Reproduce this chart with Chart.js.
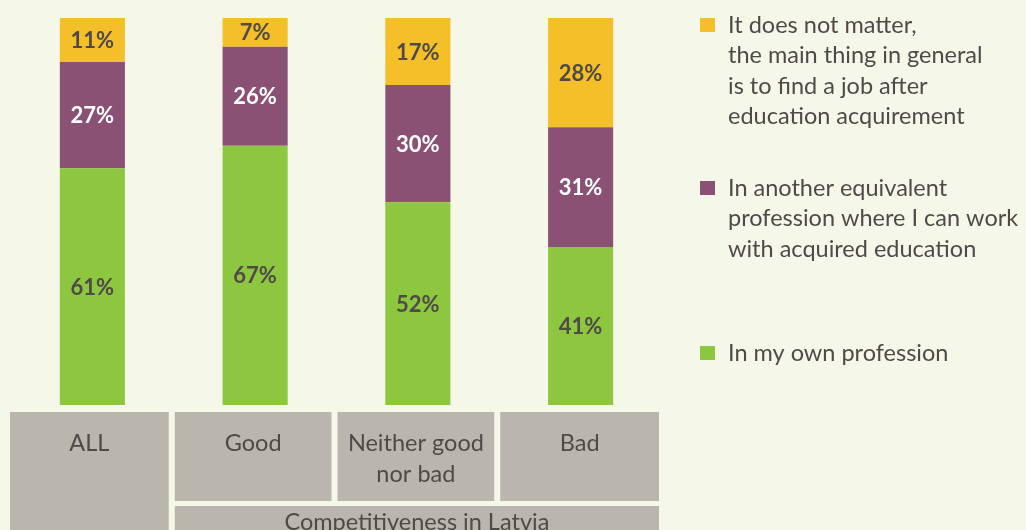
<!DOCTYPE html>
<html>
<head>
<meta charset="utf-8">
<script src="https://cdn.jsdelivr.net/npm/chart.js@4"></script>
<style>
  html, body { margin: 0; padding: 0; background: #f5f8e8; }
  #wrap { width: 1026px; height: 530px; position: relative; }
</style>
</head>
<body>
<div id="wrap"><canvas id="chart"></canvas></div>
<script>
// --- Data ---
const categories = ['ALL', 'Good', ['Neither good', 'nor bad'], 'Bad'];
const groupLabel = 'Competitiveness in Latvia';
const ownProfession = [61.2, 67.0, 52.4, 40.8];
const otherProfession = [27.4, 25.6, 30.3, 31.0];
const doesNotMatter = [11.4, 7.4, 17.3, 28.2];
const legendLines = {
  matter: ['It does not matter,', 'the main thing in general', 'is to find a job after', 'education acquirement'],
  other: ['In another equivalent', 'profession where I can work', 'with acquired education'],
  own: ['In my own profession']
};

const GREEN = '#8dc63f', PURPLE = '#8a5174', YELLOW = '#f5bf29', GREY = '#bab6ae', TEXT = '#4f4a47';
const FONT = "Lato, 'Open Sans', sans-serif";

// --- Value labels inside bars ---
const barLabels = {
  id: 'barLabels',
  afterDatasetsDraw(chart) {
    const ctx = chart.ctx;
    ctx.save();
    ctx.font = `bold 22px ${FONT}`;
    ctx.textAlign = 'center';
    ctx.textBaseline = 'middle';
    chart.data.datasets.forEach((ds, di) => {
      chart.getDatasetMeta(di).data.forEach((bar, i) => {
        ctx.fillStyle = ds.labelColor;
        ctx.fillText(Math.round(ds.data[i]) + '%', bar.x, (bar.y + bar.base) / 2 + 1);
      });
    });
    ctx.restore();
  }
};

// --- Category table under the bars ---
const categoryTable = {
  id: 'categoryTable',
  afterDraw(chart) {
    const ctx = chart.ctx, x = chart.scales.x;
    const half = (x.getPixelForValue(1) - x.getPixelForValue(0)) / 2;
    const n = categories.length;
    ctx.save();
    ctx.font = `23.5px ${FONT}`;
    ctx.textAlign = 'center';
    ctx.textBaseline = 'middle';
    const boxes = categories.map((c, i) => {
      const c0 = x.getPixelForValue(i);
      const left = i === 0 ? 10 : c0 - half + 1;
      const right = i === n - 1 ? c0 + half - 3 : c0 + half - 5;
      return { left, right };
    });
    boxes.forEach((b, i) => {
      ctx.fillStyle = GREY;
      const bottom = i === 0 ? 530 : 501;
      ctx.fillRect(b.left, 412, b.right - b.left, bottom - 412);
      const lines = Array.isArray(categories[i]) ? categories[i] : [categories[i]];
      ctx.fillStyle = TEXT;
      lines.forEach((l, k) => ctx.fillText(l, (b.left + b.right) / 2, 443 + k * 31));
    });
    ctx.fillStyle = GREY;
    ctx.fillRect(boxes[1].left, 506, boxes[n - 1].right - boxes[1].left, 30);
    ctx.fillStyle = TEXT;
    ctx.fillText(groupLabel, (boxes[1].left + boxes[n - 1].right) / 2, 522);
    ctx.restore();
  }
};

// --- Legend on the right ---
const sideLegend = {
  id: 'sideLegend',
  afterDraw(chart) {
    const ctx = chart.ctx;
    const items = [
      { color: YELLOW, lines: legendLines.matter, y: 25 },
      { color: PURPLE, lines: legendLines.other, y: 188 },
      { color: GREEN, lines: legendLines.own, y: 353 }
    ];
    ctx.save();
    ctx.font = `23.5px ${FONT}`;
    ctx.textBaseline = 'middle';
    items.forEach(it => {
      ctx.fillStyle = it.color;
      ctx.fillRect(700, it.y - 7, 15, 14);
      ctx.fillStyle = TEXT;
      it.lines.forEach((l, k) => ctx.fillText(l, 728, it.y + k * 30.5));
    });
    ctx.restore();
  }
};

new Chart(document.getElementById('chart'), {
  type: 'bar',
  data: {
    labels: categories,
    datasets: [
      { label: legendLines.own.join(' '), data: ownProfession, backgroundColor: GREEN, labelColor: TEXT },
      { label: legendLines.other.join(' '), data: otherProfession, backgroundColor: PURPLE, labelColor: '#ffffff' },
      { label: legendLines.matter.join(' '), data: doesNotMatter, backgroundColor: YELLOW, labelColor: TEXT }
    ]
  },
  options: {
    responsive: true, maintainAspectRatio: false, animation: false,
    layout: { padding: { left: 11, right: 364, top: 18, bottom: 125 } },
    datasets: { bar: { categoryPercentage: 1, barPercentage: 0.4, borderWidth: 0 } },
    plugins: { legend: { display: false }, tooltip: { enabled: false } },
    scales: {
      x: { stacked: true, display: false },
      y: { stacked: true, display: false, min: 0, max: 100 }
    }
  },
  plugins: [barLabels, categoryTable, sideLegend]
});
</script>
</body>
</html>
